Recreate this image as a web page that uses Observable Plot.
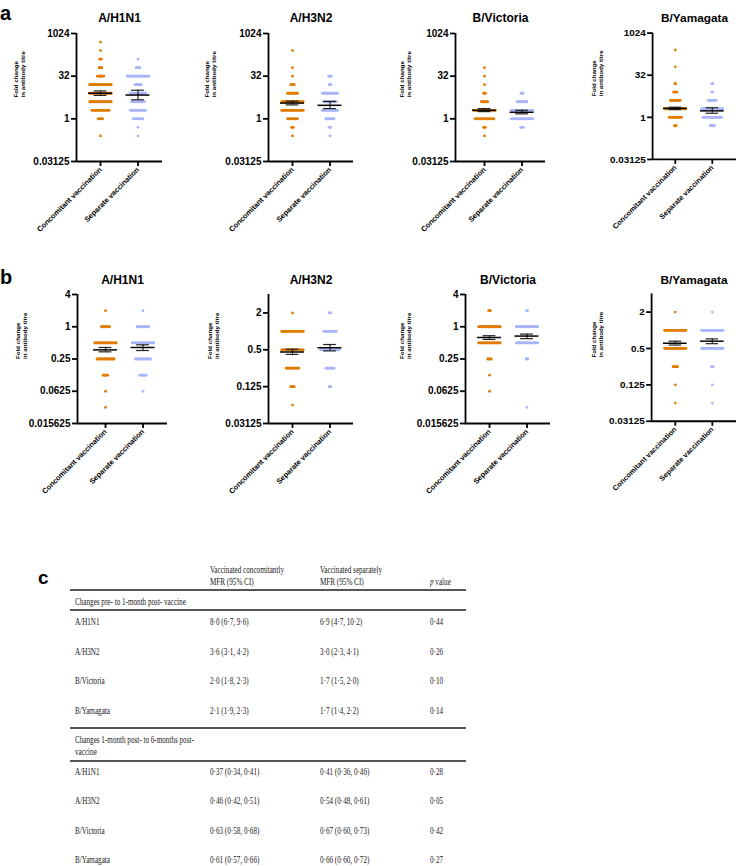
<!DOCTYPE html>
<html><head><meta charset="utf-8">
<script src="https://cdn.jsdelivr.net/npm/d3@7"></script>
<script src="https://cdn.jsdelivr.net/npm/@observablehq/plot@0.6"></script>
<style>
html,body{margin:0;padding:0;background:#fff;overflow:hidden}
#root{position:relative;width:738px;height:866px;font-family:"Liberation Sans",Arial,sans-serif}
.panel{position:absolute}
.panel svg{overflow:visible}
.letter{position:absolute;font-weight:bold;line-height:1;color:#000}
.t{position:absolute;font-family:"Liberation Serif","Times New Roman",serif;font-size:10.5px;line-height:12px;white-space:nowrap;transform:scaleX(0.68);transform-origin:0 50%;color:#1a1a1a}
.rule{position:absolute;left:70px;width:396px;height:1.6px;background:#555}
</style></head><body><div id="root"></div>
<script>
// ---------- data ----------
const strains = ["A/H1N1", "A/H3N2", "B/Victoria", "B/Yamagata"];
const groups = ["Concomitant vaccination", "Separate vaccination"];
const yLabel = "Fold change\nin antibody titre";

// panel a: pre -> 1 month post, log2 fold-change levels and number of participants at each level
const levelsA = [-2, -1, 0, 1, 2, 3, 4, 5, 6, 7, 8, 9];
const concA = [
  [1, 0, 6, 20, 25, 25, 25, 8, 4, 3, 1, 1],
  [1, 3, 12, 25, 25, 12, 5, 1, 1, 0, 1, 0],
  [1, 3, 22, 25, 8, 3, 1, 1, 1, 0, 0, 0],
  [0, 3, 15, 25, 12, 5, 2, 0, 1, 0, 1, 0]
];
const sepA = [
  [1, 1, 12, 18, 15, 18, 8, 25, 5, 1, 0, 0],
  [1, 3, 10, 18, 15, 18, 3, 4, 0, 0, 0, 0],
  [0, 4, 25, 25, 12, 3, 0, 0, 0, 0, 0, 0],
  [0, 6, 22, 25, 10, 2, 2, 0, 0, 0, 0, 0]
];
const ticksA = [0.03125, 1, 32, 1024];
const domainA = [0.03125, 1024];

// panel b: 1 month -> 6 months post
const levelsB = [-5, -4, -3, -2, -1, 0, 1];
const concB = [
  [1, 1, 6, 20, 25, 10, 1],
  [0, 1, 5, 15, 25, 25, 1],
  [0, 1, 1, 5, 25, 25, 3],
  [0, 1, 1, 6, 25, 25, 1]
];
const sepB = [
  [0, 1, 8, 18, 25, 14, 1],
  [0, 0, 3, 10, 22, 15, 3],
  [1, 0, 0, 3, 25, 25, 2],
  [0, 1, 1, 3, 25, 25, 1]
];
const ticksB = [
  [0.015625, 0.0625, 0.25, 1, 4],
  [0.03125, 0.125, 0.5, 2],
  [0.015625, 0.0625, 0.25, 1, 4],
  [0.03125, 0.125, 0.5, 2]
];
const domainsB = [[0.015625, 4], [0.03125, 4], [0.015625, 4], [0.03125, 4]];

// table c: mean fold rise [MFR, lower, upper]
const headConc = ["Vaccinated concomitantly", "MFR (95% CI)"];
const headSep = ["Vaccinated separately", "MFR (95% CI)"];
const section1 = ["Changes pre- to 1-month post- vaccine"];
const section2 = ["Changes 1-month post- to 6-months post-", "vaccine"];
const mfr1Conc = [[8.0, 6.7, 9.6], [3.6, 3.1, 4.2], [2.0, 1.8, 2.3], [2.1, 1.9, 2.3]];
const mfr1Sep = [[6.9, 4.7, 10.2], [3.0, 2.3, 4.1], [1.7, 1.5, 2.0], [1.7, 1.4, 2.2]];
const p1 = [0.44, 0.26, 0.10, 0.14];
const mfr2Conc = [[0.37, 0.34, 0.41], [0.46, 0.42, 0.51], [0.63, 0.58, 0.68], [0.61, 0.57, 0.66]];
const mfr2Sep = [[0.41, 0.36, 0.46], [0.54, 0.48, 0.61], [0.67, 0.60, 0.73], [0.66, 0.60, 0.72]];
const p2 = [0.28, 0.05, 0.42, 0.27];

// ---------- layout ----------
const ORANGE = "#e07c00", BLUE = "#a9b5fa";
const ML = 72, MR = 2, MB = 80, PX = 37.5;
const layoutA = {top: 0, mt: 33, h: 128, titleDy: -20,
  x0: [76, 268, 455, 653], lead: [24, 24, 29, 23], w: [86, 85, 90, 85], labelDx: [-57, -58, -50, -56]};
const layoutB = {top: 245, mt: 49, h: 129, titleDy: -19,
  x0: [77, 268, 465, 652], lead: [28, 24, 24, 24], w: [90, 85, 85, 86], labelDx: [-56, -55, -60, -55]};

const root = document.getElementById("root");

function spreadRows(levels, counts, g) {
  const rows = [];
  counts.forEach((n, i) => {
    if (!n) return;
    const spread = Math.min((n - 1) * 0.9, 22);
    for (let k = 0; k < n; k++) {
      const off = n === 1 ? 0 : -spread / 2 + k * spread / (n - 1);
      rows.push({x: g + off / PX, v: 2 ** levels[i]});
    }
  });
  return rows;
}

function panel(i, L, title, levels, conc, sep, yDomain, yTicks, stats) {
  const lead = L.lead[i], w = L.w[i];
  const xd = [-lead / PX, (w - lead) / PX];
  const st = stats.map((s, g) => ({g, m: s[0], lo: s[1], hi: s[2]}));
  const chart = Plot.plot({
    width: ML + w + MR, height: L.mt + L.h + MB,
    marginLeft: ML, marginRight: MR, marginTop: L.mt, marginBottom: MB,
    style: {fontFamily: '"Liberation Sans", Arial, sans-serif', fontSize: "10px", fontWeight: "bold", background: "transparent", color: "#000"},
    x: {domain: xd},
    y: {type: "log", base: 2, domain: yDomain},
    marks: [
      Plot.dot(spreadRows(levels, conc, 0), {x: "x", y: "v", r: 1.4, fill: ORANGE}),
      Plot.dot(spreadRows(levels, sep, 1), {x: "x", y: "v", r: 1.4, fill: BLUE}),
      Plot.ruleX(st, {x: "g", y1: "lo", y2: "hi", stroke: "#222", strokeWidth: 1.2}),
      Plot.ruleY(st, {y: "lo", x1: d => d.g - 0.17, x2: d => d.g + 0.17, stroke: "#222", strokeWidth: 1.2}),
      Plot.ruleY(st, {y: "hi", x1: d => d.g - 0.17, x2: d => d.g + 0.17, stroke: "#222", strokeWidth: 1.2}),
      Plot.ruleY(st, {y: "m", x1: d => d.g - 0.32, x2: d => d.g + 0.32, stroke: "#000", strokeWidth: 1.5}),
      Plot.ruleX([xd[0]], {stroke: "#000", strokeWidth: 1.8}),
      Plot.ruleY([yDomain[0]], {stroke: "#000", strokeWidth: 1.8}),
      Plot.axisY({ticks: yTicks, tickFormat: d => String(d), tickSize: 5, tickPadding: 2, strokeWidth: 1.8, fontSize: 10, fontWeight: "bold", label: null}),
      Plot.axisX({ticks: [0, 1], tickFormat: k => groups[k], tickRotate: -45, tickSize: 5, tickPadding: 2, strokeWidth: 1.8, fontSize: 7.4, fontWeight: "bold", label: null}),
      Plot.text([title], {frameAnchor: "top", dy: L.titleDy, fontSize: 12, fontWeight: "bold"}),
      Plot.text([yLabel], {frameAnchor: "left", rotate: -90, dx: L.labelDx[i], fontSize: 6.2, fontWeight: "bold", lineHeight: 1.15})
    ]
  });
  const div = document.createElement("div");
  div.className = "panel";
  div.style.left = (L.x0[i] - ML) + "px";
  div.style.top = L.top + "px";
  div.appendChild(chart);
  root.appendChild(div);
}

strains.forEach((s, i) => {
  panel(i, layoutA, s, levelsA, concA[i], sepA[i], domainA, ticksA, [mfr1Conc[i], mfr1Sep[i]]);
  panel(i, layoutB, s, levelsB, concB[i], sepB[i], domainsB[i], ticksB[i], [mfr2Conc[i], mfr2Sep[i]]);
});

// ---------- letters ----------
function letter(txt, left, top, size) {
  const d = document.createElement("div");
  d.className = "letter"; d.textContent = txt;
  d.style.left = left + "px"; d.style.top = top + "px"; d.style.fontSize = size + "px";
  root.appendChild(d);
}
letter("a", 0, 3, 20);
letter("b", 0, 267, 20);
letter("c", 38, 568, 19);

// ---------- table ----------
function txt(html, left, cy) {
  const d = document.createElement("div");
  d.className = "t"; d.innerHTML = html;
  d.style.left = left + "px"; d.style.top = (cy - 6) + "px";
  root.appendChild(d);
}
function rule(y) {
  const d = document.createElement("div");
  d.className = "rule"; d.style.top = (y - 0.8) + "px";
  root.appendChild(d);
}
const fmt = (v, dec) => v.toFixed(dec).replace(".", "·");
const ci = (a, dec) => `${fmt(a[0], dec)} (${fmt(a[1], dec)}, ${fmt(a[2], dec)})`;
const COL = [75, 210, 320, 430];
txt(headConc[0], COL[1], 570); txt(headConc[1], COL[1], 582);
txt(headSep[0], COL[2], 570); txt(headSep[1], COL[2], 582);
txt("<i>p</i> value", COL[3], 582);
rule(590);
txt(section1[0], COL[0], 602);
rule(610);
const rows1Y = [622, 652, 681, 711];
strains.forEach((s, i) => {
  txt(s, COL[0], rows1Y[i]);
  txt(ci(mfr1Conc[i], 1), COL[1], rows1Y[i]);
  txt(ci(mfr1Sep[i], 1), COL[2], rows1Y[i]);
  txt(fmt(p1[i], 2), COL[3], rows1Y[i]);
});
rule(728);
txt(section2[0], COL[0], 740); txt(section2[1], COL[0], 752);
rule(761);
const rows2Y = [772, 801, 831, 860];
strains.forEach((s, i) => {
  txt(s, COL[0], rows2Y[i]);
  txt(ci(mfr2Conc[i], 2), COL[1], rows2Y[i]);
  txt(ci(mfr2Sep[i], 2), COL[2], rows2Y[i]);
  txt(fmt(p2[i], 2), COL[3], rows2Y[i]);
});
</script></body></html>
